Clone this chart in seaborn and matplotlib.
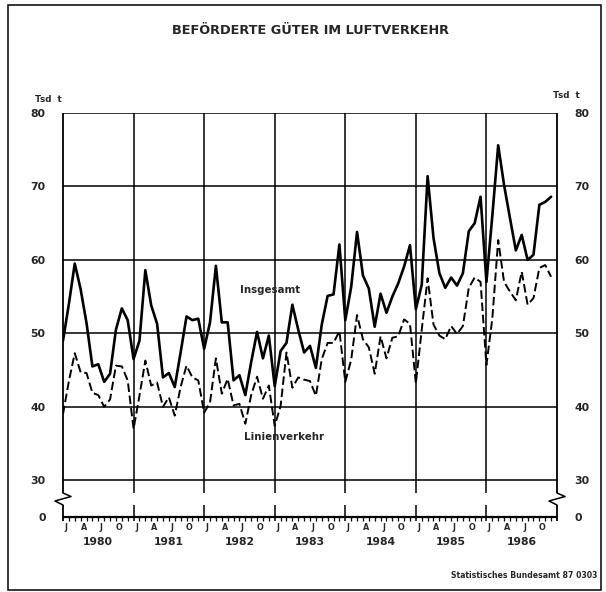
import numpy as np
import pandas as pd
import matplotlib
matplotlib.use("Agg")
import matplotlib.pyplot as plt
import matplotlib.transforms as mtransforms
from matplotlib.lines import Line2D
from matplotlib.patches import Rectangle
import seaborn as sns

# ---------------- data (Tsd t, monthly Jan 1980 - Dec 1986) ----------------
years = ["1980", "1981", "1982", "1983", "1984", "1985", "1986"]
month_letters = ["J", "A", "J", "O"]
y_ticks = [30, 40, 50, 60, 70, 80]

insgesamt = [
    49.0, 54.0, 59.5, 56.0, 51.4, 45.5, 45.8, 43.4, 44.5, 50.5, 53.4, 51.8,
    46.5, 49.0, 58.6, 53.8, 51.3, 44.0, 44.6, 42.7, 47.4, 52.3, 51.8, 52.0,
    47.9, 51.5, 59.2, 51.5, 51.5, 43.6, 44.3, 41.6, 46.1, 50.2, 46.6, 49.7,
    42.8, 47.6, 48.7, 53.9, 50.5, 47.4, 48.3, 45.3, 51.2, 55.1, 55.3, 62.1,
    51.8, 56.3, 63.8, 57.9, 56.1, 50.9, 55.4, 52.8, 55.0, 56.8, 59.1, 62.0,
    53.3, 56.6, 71.4, 63.0, 58.2, 56.2, 57.6, 56.5, 58.2, 63.9, 65.0, 68.6,
    57.0, 66.0, 75.6, 70.2, 65.7, 61.3, 63.4, 60.0, 60.7, 67.5, 67.9, 68.6,
]
linienverkehr = [
    39.0, 43.5, 47.3, 44.7, 44.6, 41.9, 41.6, 40.0, 41.0, 45.6, 45.5, 43.6,
    37.0, 41.5, 46.3, 42.9, 43.3, 40.0, 41.3, 38.8, 42.7, 45.6, 44.0, 43.6,
    39.2, 40.6, 46.6, 41.8, 43.8, 40.2, 40.4, 37.7, 41.6, 44.1, 41.1, 42.9,
    37.4, 40.1, 47.4, 42.6, 44.0, 43.7, 43.5, 41.5, 46.5, 48.7, 48.7, 50.3,
    43.4, 46.4, 52.5, 49.2, 48.1, 44.5, 49.6, 46.6, 49.4, 49.6, 51.9, 51.3,
    43.2, 50.5, 57.5, 51.2, 49.7, 49.2, 51.0, 49.9, 51.0, 56.2, 57.6, 57.0,
    45.7, 52.0, 62.7, 57.0, 55.7, 54.5, 58.4, 53.9, 54.8, 58.9, 59.3, 57.7,
]

# ---------------- style ----------------
sns.set_style("white")
plt.rcParams["font.family"] = ["DejaVu Sans"]
plt.rcParams["font.weight"] = "bold"

W, H = 606, 592
fig = plt.figure(figsize=(W / 100, H / 100), dpi=100)
L, R, T, B = 63, 557, 113, 517
ax = fig.add_axes([L / W, 1 - B / H, (R - L) / W, (B - T) / H])

n = len(insgesamt)
months = np.arange(n)
df = pd.DataFrame({
    "Monat": np.concatenate([months, months]),
    "Wert": insgesamt + linienverkehr,
    "Reihe": ["Insgesamt"] * n + ["Linienverkehr"] * n,
})

ax.set_xlim(0, 84)
ax.set_ylim(25, 80)
Y0 = 25  # position of the "0" baseline below the axis break
BRK_HI, BRK_LO = 28.3, 26.7

# grid lines
for v in y_ticks:
    ax.plot([0, 84], [v, v], color="black", lw=1.1, solid_capstyle="butt", zorder=1)
for k in range(0, 8):
    x = 12 * k
    lw = 1.3 if k in (0, 7) else 1.1
    ax.plot([x, x], [BRK_HI, 80], color="black", lw=lw, zorder=1,
            clip_on=False, solid_capstyle="butt")
    ax.plot([x, x], [Y0 - 0.55, BRK_LO], color="black", lw=lw, zorder=1,
            clip_on=False, solid_capstyle="butt")
ax.plot([0, 84], [Y0, Y0], color="black", lw=1.6, zorder=1, clip_on=False, solid_capstyle="butt")

# series
sns.lineplot(data=df[df["Reihe"] == "Insgesamt"], x="Monat", y="Wert", color="black",
             linewidth=1.9, ax=ax, legend=False, zorder=3)
sns.lineplot(data=df[df["Reihe"] == "Linienverkehr"], x="Monat", y="Wert", color="black",
             linewidth=1.4, ax=ax, legend=False, zorder=3)
ax.lines[-1].set_dashes((4.4, 1.9))

for s in ax.spines.values():
    s.set_visible(False)

# y ticks both sides
ax.set_yticks([Y0] + y_ticks)
ax.set_yticklabels(["0"] + [str(v) for v in y_ticks])
ax.tick_params(axis="y", left=False, right=False, labelleft=True, labelright=True,
               labelsize=7.8, pad=9)
for lab in ax.get_yticklabels():
    lab.set_fontweight("bold")

# x ticks: month comb
ax.set_xticks(np.arange(0, 85, 12))
ax.set_xticks(np.arange(0, 85), minor=True)
ax.tick_params(axis="x", which="major", bottom=False, labelbottom=False)
ax.tick_params(axis="x", which="minor", bottom=True, length=3.2, width=0.9, direction="out",
               color="black")
ax.set_xlabel("")
ax.set_ylabel("")

# month letters & years
tr = mtransforms.blended_transform_factory(ax.transData, fig.transFigure)
for yi, yr in enumerate(years):
    for mi, ml in zip([0, 3, 6, 9], month_letters):
        ax.text(12 * yi + mi + 0.5, 1 - 528 / H, ml, transform=tr, ha="center", va="center",
                fontsize=5.8, fontweight="bold")
    ax.text(12 * yi + 6, 1 - 542 / H, yr, transform=tr, ha="center", va="center",
            fontsize=7.8, fontweight="bold")

# axis breaks (zigzag)
def zig(x0):
    xs = [x0, x0 + 8, x0 - 8, x0]
    ys = [493, 496.5, 501, 505]
    fig.add_artist(Line2D([x / W for x in xs], [1 - y / H for y in ys], color="black",
                          lw=1.1, transform=fig.transFigure))
zig(L)
zig(R)

# labels
fig.text(35 / W, 1 - 99 / H, "Tsd  t", fontsize=6.3, fontweight="bold", ha="left", va="center")
fig.text(553 / W, 1 - 95 / H, "Tsd  t", fontsize=6.3, fontweight="bold", ha="left", va="center")
fig.text(310 / W, 1 - 30 / H, "BEFÖRDERTE GÜTER IM LUFTVERKEHR", fontsize=9.3,
         fontweight="bold", ha="center", va="center")
fig.text(270 / W, 1 - 290 / H, "Insgesamt", fontsize=7.4, fontweight="bold",
         ha="center", va="center")
fig.text(284 / W, 1 - 437 / H, "Linienverkehr", fontsize=7.4, fontweight="bold",
         ha="center", va="center")
fig.text(597 / W, 1 - 575 / H, "Statistisches Bundesamt 87 0303", fontsize=5.6,
         fontweight="bold", ha="right", va="center")

# outer frame
fig.add_artist(Rectangle((8 / W, 1 - 590 / H), (601 - 8) / W, (590 - 5) / H,
                         fill=False, edgecolor="black", lw=1.1, transform=fig.transFigure))

fig.savefig("out.png", dpi=100)
